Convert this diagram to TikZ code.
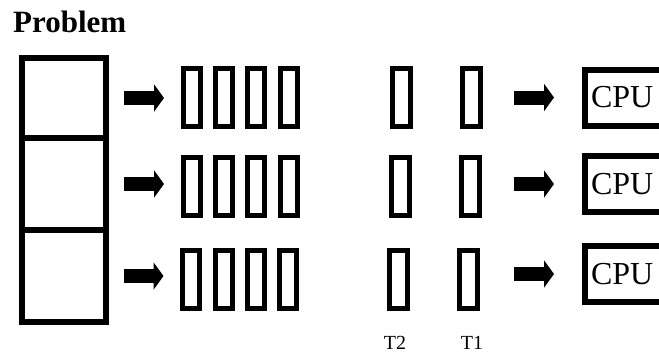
\documentclass[tikz,border=0pt]{standalone}
\usepackage{fontspec}
\setmainfont{Liberation Serif}
\usetikzlibrary{arrows.meta}
\begin{document}
\begin{tikzpicture}[x=1pt,y=-1pt,
  cell/.style={draw,line width=6pt,inner sep=0,outer sep=0,minimum width=84pt},
  slot/.style={draw,line width=5pt,inner sep=0,outer sep=0,minimum width=17pt,minimum height=58pt},
  cpubox/.style={draw,line width=6pt,anchor=west,outer sep=0,inner ysep=0,inner xsep=6pt,
    text width=84pt,minimum height=56pt,font=\fontsize{32}{32}\selectfont},
  fat/.style={line width=14pt,-{Triangle[length=10pt,width=27pt]}},
  tag/.style={anchor=base,inner sep=0,font=\fontsize{20}{20}\selectfont}]
\clip (0,0) rectangle (659,354);

\node[anchor=base west,inner sep=0,font=\bfseries\fontsize{31}{31}\selectfont] (title) at (13,32) {Problem};

% the split block
\node[cell,minimum height=80pt] (c1) at (64,98) {};
\node[cell,minimum height=92pt] (c2) at (64,184) {};
\node[cell,minimum height=92pt] (c3) at (64,276) {};

% queues
\node[slot] (q11) at (192,97) {};
\node[slot] (q12) at (224,97) {};
\node[slot] (q13) at (256,97) {};
\node[slot] (q14) at (289,97) {};
\node[slot] (q21) at (192,186) {};
\node[slot] (q22) at (224,186) {};
\node[slot] (q23) at (256,186) {};
\node[slot] (q24) at (289,186) {};
\node[slot] (q31) at (191,279) {};
\node[slot] (q32) at (224,279) {};
\node[slot] (q33) at (256,279) {};
\node[slot] (q34) at (288,279) {};

% threads
\node[slot,minimum width=18pt] (t21) at (401,97) {};
\node[slot,minimum width=18pt] (t11) at (471,97) {};
\node[slot,minimum width=18pt] (t22) at (400,186) {};
\node[slot,minimum width=18pt] (t12) at (470,186) {};
\node[slot,minimum width=18pt] (t23) at (398,279) {};
\node[slot,minimum width=18pt] (t13) at (468,279) {};

\node[tag] (lab2) at (395,349) {T2};
\node[tag] (lab1) at (472,349) {T1};

\node[cpubox] (cpu1) at (585,97.5) {CPU};
\node[cpubox] (cpu2) at (585,184) {CPU};
\node[cpubox] (cpu3) at (585,274) {CPU};

\draw[fat,shorten <=18pt,shorten >=19.5pt] (c1.east) -- (c1.east -| q11.west);
\draw[fat,shorten <=18pt,shorten >=19.5pt] (c2.east) -- (c2.east -| q21.west);
\draw[fat,shorten <=18pt,shorten >=19pt] (c3.east) -- (c3.east -| q31.west);

\draw[fat,shorten <=34pt,shorten >=31pt] (t11.east |- cpu1.west) -- (cpu1.west);
\draw[fat,shorten <=35pt,shorten >=31pt] (t12.east |- cpu2.west) -- (cpu2.west);
\draw[fat,shorten <=37pt,shorten >=31pt] (t13.east |- cpu3.west) -- (cpu3.west);
\end{tikzpicture}
\end{document}
